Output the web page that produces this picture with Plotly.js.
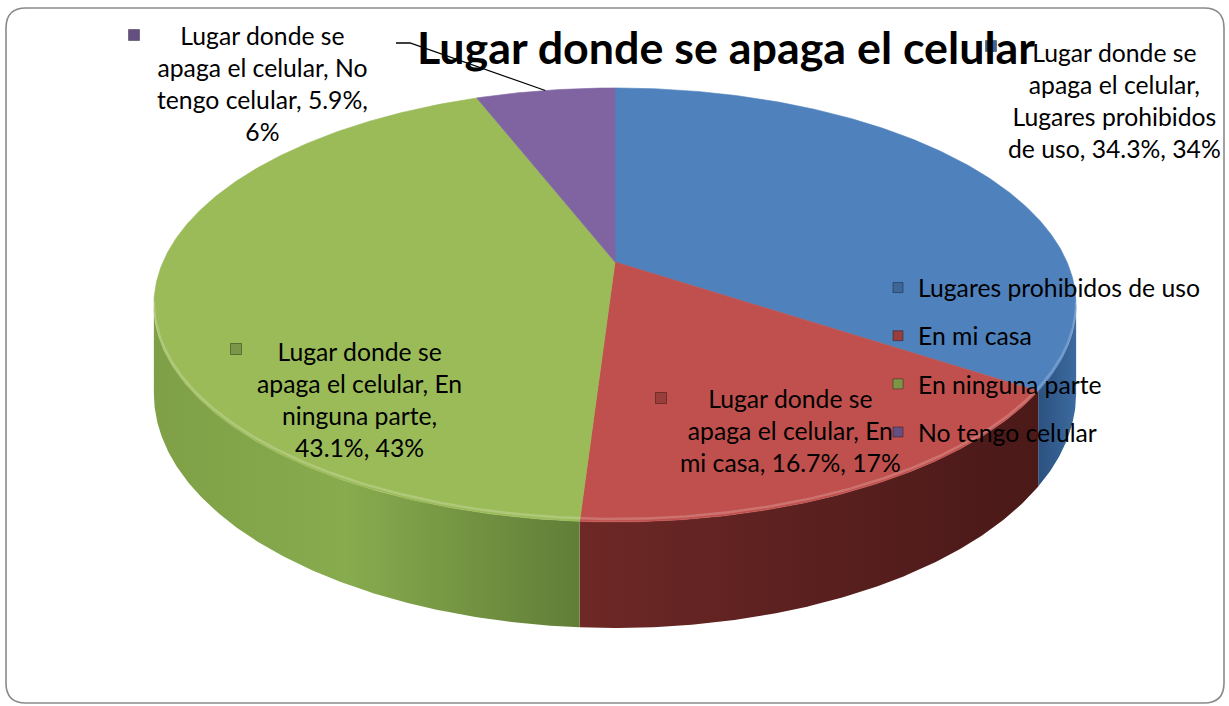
<!DOCTYPE html>
<html><head><meta charset="utf-8">
<script src="https://cdn.plot.ly/plotly-3.0.1.min.js"></script>
<style>html,body{margin:0;padding:0;background:#fff;}#chart{width:1229px;height:706px;}</style>
</head><body><div id="chart"></div>
<script>
// ---------- data ----------
const chartTitle = "Lugar donde se apaga el celular";
const seriesName = "Lugar donde se apaga el celular";
const categories = ["Lugares prohibidos de uso", "En mi casa", "En ninguna parte", "No tengo celular"];
const percents = [34.3, 16.7, 43.1, 5.9];
const roundedPercents = [34, 17, 43, 6];

// ---------- style ----------
const topColors = ["#4F81BD", "#C0504D", "#9BBB59", "#8064A2"];
const markerColors = ["#3E6797", "#9A3E3B", "#7B9646", "#654F82"];
const sideScales = [
  [[0, "#2C5180"], [1, "#3C6A9F"]],
  [[0, "#6E2826"], [0.5, "#5A201F"], [1, "#4A1918"]],
  [[0, "#7FA046"], [0.45, "#88AB4E"], [1, "#617E37"]],
  [[0, "#6A5388"], [1, "#5A4574"]]
];
const FONT = "Lato";
const W = 1229, H = 706;
// 3D-projection geometry (pixels)
const CX = 615, CY = 262, RA = 452, RB = 208.5, PERSP = 0.198, DEPTH = 85;
const labelPos = [[1114, 100], [790, 430], [359, 399], [262, 83]];
const labelMarkerPos = [[991, 46], [661, 398], [236, 349], [134, 35]];

function proj(deg, drop) {
  const t = deg * Math.PI / 180;
  const u = Math.sin(t), v = -Math.cos(t);
  const s = 1 / (1 - PERSP * v);
  return [CX + RA * u * s, CY + RB * v * s + (drop ? DEPTH * s : 0)];
}
function arc(a0, a1, drop) {
  const pts = [];
  const n = Math.max(2, Math.ceil(Math.abs(a1 - a0) / 0.5));
  for (let i = 0; i <= n; i++) pts.push(proj(a0 + (a1 - a0) * i / n, drop));
  return pts;
}

function build(labelSize, titleSize, measure) {
  const total = percents.reduce((a, b) => a + b, 0);
  const starts = [], ends = [];
  let acc = 0;
  percents.forEach(p => { starts.push(acc / total * 360); acc += p; ends.push(acc / total * 360); });

  const thR = Math.acos(-PERSP) * 180 / Math.PI, thL = 360 - thR;
  const traces = [];
  // side faces
  categories.forEach((c, i) => {
    const a = Math.max(starts[i], thR), b = Math.min(ends[i], thL);
    if (b <= a) return;
    const pts = arc(a, b, false).concat(arc(b, a, true));
    traces.push({
      type: "scatter", mode: "lines", x: pts.map(p => p[0]), y: pts.map(p => p[1]),
      fill: "toself", fillcolor: topColors[i],
      fillgradient: { type: "horizontal", colorscale: sideScales[i] },
      line: { width: 0 }, hoverinfo: "skip", showlegend: false
    });
  });
  // top faces
  categories.forEach((c, i) => {
    const pts = [[CX, CY]].concat(arc(starts[i], ends[i], false));
    pts.push([CX, CY]);
    traces.push({
      type: "scatter", mode: "lines", x: pts.map(p => p[0]), y: pts.map(p => p[1]),
      fill: "toself", fillcolor: topColors[i], line: { width: 0.6, color: topColors[i] },
      hoverinfo: "text", text: c, showlegend: false
    });
  });
  // rim highlight on the front
  const rim = arc(thR, thL, false);
  traces.push({ type: "scatter", mode: "lines", x: rim.map(p => p[0]), y: rim.map(p => p[1] - 3),
    line: { width: 2.5, color: "rgba(255,255,255,0.2)" }, hoverinfo: "skip", showlegend: false });

  // legend entries
  categories.forEach((c, i) => {
    traces.push({ type: "scatter", mode: "markers", x: [null], y: [null], name: c,
      legendgroup: "g" + i, marker: { symbol: "square", size: 10, color: markerColors[i],
      line: { width: 1, color: "rgba(0,0,0,0.35)" } } });
  });

  // data labels
  const maxW = 228;
  function wrap(str) {
    const words = str.split(" "); const lines = []; let cur = "";
    words.forEach(w => {
      const t = cur ? cur + " " + w : w;
      if (cur && measure(t) > maxW) { lines.push(cur); cur = w; } else cur = t;
    });
    lines.push(cur); return lines.join("<br>");
  }
  const annotations = [{
    text: chartTitle, x: 726, y: 47, xref: "x", yref: "y", showarrow: false,
    xanchor: "center", yanchor: "middle",
    font: { family: FONT, size: titleSize, color: "#000", weight: "bold" }
  }];
  const shapes = [];
  categories.forEach((c, i) => {
    const txt = `${seriesName}, ${c}, ${percents[i].toFixed(1)}%, ${roundedPercents[i]}%`;
    annotations.push({ text: wrap(txt), x: labelPos[i][0], y: labelPos[i][1], xref: "x", yref: "y",
      showarrow: false, xanchor: "center", yanchor: "middle", align: "center",
      font: { family: FONT, size: labelSize, color: "#000" } });
    const [mx, my] = labelMarkerPos[i];
    shapes.push({ type: "rect", xref: "x", yref: "y", x0: mx - 5.5, x1: mx + 5.5, y0: my - 5.5, y1: my + 5.5,
      fillcolor: markerColors[i], line: { width: 1, color: "rgba(0,0,0,0.35)" } });
  });
  // leader line for the small slice
  const last = categories.length - 1;
  const tip = proj((starts[last] + ends[last]) / 2, false);
  shapes.push({ type: "path", xref: "x", yref: "y",
    path: `M 396,43 L 410,43 L ${tip[0].toFixed(1)},${tip[1].toFixed(1)}`,
    line: { color: "#000", width: 1.3 } });
  // rounded chart border
  shapes.push({ type: "path", xref: "x", yref: "y", layer: "above",
    path: "M 26,8 L 1204,8 Q 1224,8 1224,28 L 1224,683 Q 1224,703 1204,703 L 26,703 Q 6,703 6,683 L 6,28 Q 6,8 26,8 Z",
    line: { color: "#8A8A8A", width: 1.6 } });

  const layout = {
    width: W, height: H, margin: { l: 0, r: 0, t: 0, b: 0 },
    paper_bgcolor: "#fff", plot_bgcolor: "#fff",
    xaxis: { range: [0, W], visible: false, fixedrange: true },
    yaxis: { range: [H, 0], visible: false, fixedrange: true },
    showlegend: true,
    legend: { x: 878 / W, xanchor: "left", y: 1 - 265 / H, yanchor: "top", bgcolor: "rgba(0,0,0,0)",
      font: { family: FONT, size: labelSize, color: "#000" }, tracegroupgap: 13, traceorder: "grouped" },
    annotations, shapes
  };
  Plotly.newPlot("chart", traces, layout, { displayModeBar: false, staticPlot: true });
}

const cv = document.createElement("canvas").getContext("2d");
function textW(str, font) { cv.font = font; return cv.measureText(str).width; }
function start() {
  const labelSize = 26 * 282 / textW("Lugares prohibidos de uso", "26px " + FONT);
  const titleSize = 44 * 619 / textW(chartTitle, "bold 44px " + FONT);
  build(labelSize, titleSize, s => textW(s, labelSize + "px " + FONT));
}
if (document.fonts && document.fonts.load) {
  Promise.all([document.fonts.load("26px " + FONT), document.fonts.load("bold 44px " + FONT)]).then(start, start);
} else start();
</script>
</body></html>
